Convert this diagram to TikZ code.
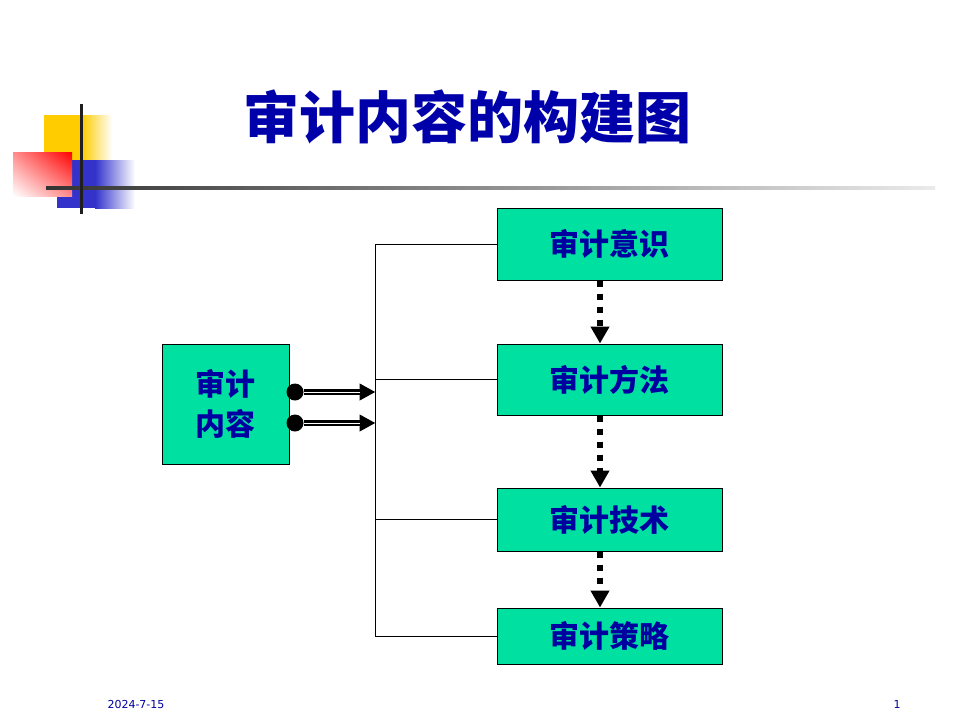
\documentclass[tikz,border=0pt]{standalone}
\usepackage{fontspec}
\newfontfamily\cjk{Noto Sans CJK SC}
\newfontfamily\datefont{DejaVu Sans}
\usetikzlibrary{arrows.meta,shadings}
\definecolor{boxgreen}{RGB}{0,224,160}
\definecolor{inkblue}{RGB}{0,0,160}
\definecolor{titleblue}{RGB}{0,0,170}
\definecolor{decoyellow}{RGB}{255,204,0}
\definecolor{decoblue}{RGB}{51,51,204}

\begin{document}
\begin{tikzpicture}[x=1pt,y=-1pt,
  stagebox/.style={draw=black, line width=1pt, fill=boxgreen, minimum width=225pt,
    inner sep=0pt, text=inkblue, font=\cjk\bfseries\fontsize{30}{40}\selectfont},
  flow/.style={line width=6pt, dash pattern=on 6pt off 7pt,
    -{Triangle[length=17pt,width=18pt]}},
  feed/.style={line width=5.5pt, -{Triangle[length=16pt,width=16pt]},
    postaction={draw=white, line width=1pt, -, shorten >=16pt}},
  feeddot/.style={circle, fill=black, minimum size=17pt, inner sep=0pt},
  small/.style={text=inkblue, font=\datefont\fontsize{11}{13}\selectfont}
  ]
  \useasboundingbox (0,0) rectangle (960,720);

  % corner decoration
  \fill[decoyellow] (44,115) rectangle (82,160);
  \shade[left color=decoyellow, right color=white] (82,115) rectangle (112,160);
  \fill[decoblue] (57,160) rectangle (95,208);
  \shade[left color=decoblue, right color=white] (95,160) rectangle (135,208);
  \shade[upper right=red, upper left=red!45!white, lower right=red!45!white,
    lower left=white] (13,152) rectangle (72,196);
  \shade[left color=black!80, right color=black!8] (46,186.5) rectangle (935,189.5);
  \draw[line width=3pt, black!88] (81,104) -- (81,214);

  \node[font=\cjk\bfseries\fontsize{56}{60}\selectfont, text=titleblue] (title)
    at (467,117) {审计内容的构建图};

  % stages
  \node[stagebox, minimum height=72pt] (awareness) at (609.5,244) {审计意识};
  \node[stagebox, minimum height=71pt] (method) at (609.5,379.5) {审计方法};
  \node[stagebox, minimum height=63pt] (technique) at (609.5,519.5) {审计技术};
  \node[stagebox, minimum height=56pt] (strategy) at (609.5,636) {审计策略};
  \node[stagebox, minimum width=127pt, minimum height=120pt, align=center]
    (content) at (225.5,404) {审计\\内容};

  \draw[flow] ([xshift=-9.5pt]awareness.south) -- ([xshift=-9.5pt]method.north);
  \draw[flow] ([xshift=-9.5pt]method.south) -- ([xshift=-9.5pt]technique.north);
  \draw[flow] ([xshift=-9.5pt]technique.south) -- ([xshift=-9.5pt]strategy.north);

  % bracket
  \draw[line width=0.8pt] (awareness.west) -- ++(-121,0) coordinate (join) |- (strategy.west);
  \draw[line width=0.8pt] (method.west) -- (method.west -| join);
  \draw[line width=0.8pt] (technique.west) -- (technique.west -| join);

  % feeds
  \node[feeddot] (dotA) at (295,392) {};
  \node[feeddot] (dotB) at (295,423) {};
  \draw[feed] (dotA.east) -- (dotA.east -| join);
  \draw[feed] (dotB.east) -- (dotB.east -| join);

  \node[small] (date) at (136,704) {2024-7-15};
  \node[small] (page) at (897,704) {1};
\end{tikzpicture}
\end{document}
